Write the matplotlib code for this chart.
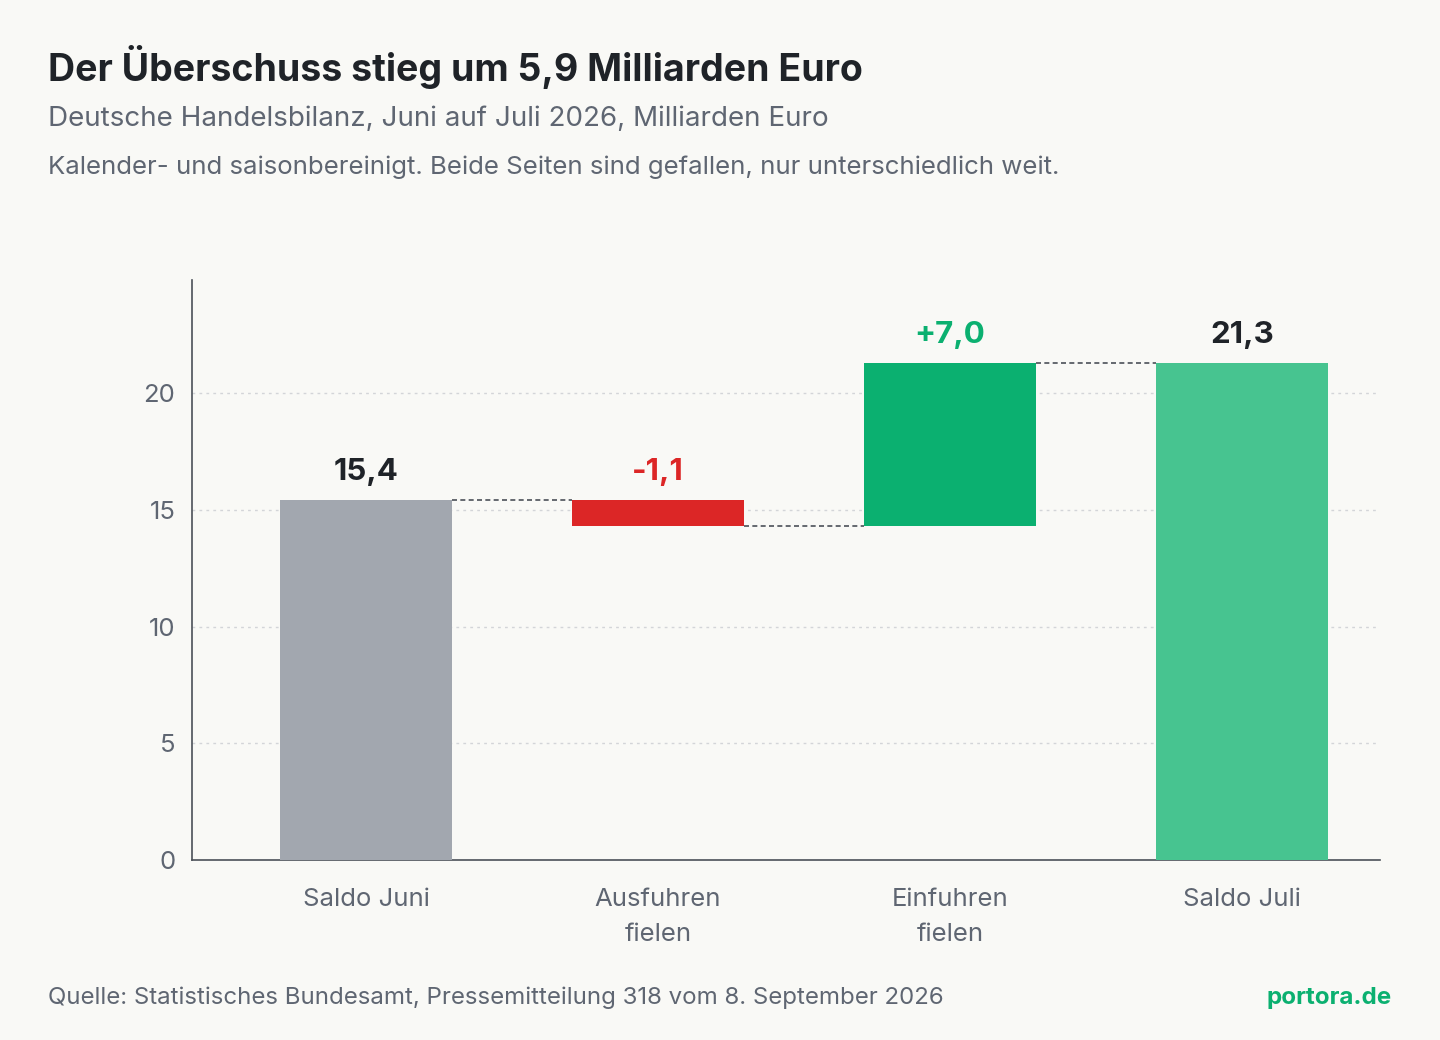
import matplotlib.pyplot as plt
import numpy as np

plt.rcParams['font.family'] = ['Inter', 'DejaVu Sans']

categories = ['Saldo Juni', 'Ausfuhren\nfielen', 'Einfuhren\nfielen', 'Saldo Juli']
changes = [15.4, -1.1, 7.0, 21.3]
labels = ['15,4', '-1,1', '+7,0', '21,3']
kinds = ['total', 'delta', 'delta', 'total']

colors = ['#a2a7af', '#dc2626', '#0bb070', '#47c490']
label_colors = ['#1f2328', '#dc2626', '#0bb070', '#1f2328']

bg = '#f9f9f6'
fig = plt.figure(figsize=(14.4, 10.4), dpi=100, facecolor=bg)
ax = fig.add_axes([192 / 1440, 1 - 860 / 1040, 1188 / 1440, 580 / 1040], facecolor=bg)

x = np.arange(len(categories))
width = 0.589
bottoms, tops = [], []
level = 0
for k, v in zip(kinds, changes):
    if k == 'total':
        b, t = 0, v
        level = v
    else:
        b, t = (level, level + v) if v > 0 else (level + v, level)
        level += v
    bottoms.append(b)
    tops.append(t)

ax.bar(x, np.array(tops) - np.array(bottoms), bottom=bottoms, width=width,
       color=colors, zorder=3)

# connectors
ends = np.cumsum(changes[:3])
for i in range(len(categories) - 1):
    lv = ends[i]
    ax.plot([x[i] + width / 2, x[i + 1] - width / 2], [lv, lv],
            color='#4b5058', lw=1.2, ls=(0, (3, 2)), zorder=4)

for i in range(len(categories)):
    ax.text(x[i], max(tops[i], bottoms[i]) + 0.6, labels[i], ha='center', va='bottom',
            fontsize=22.5, fontweight='bold', color=label_colors[i])

ax.set_xlim(-0.596, 3.473)
ax.set_ylim(0, 24.84)
ax.set_yticks([0, 5, 10, 15, 20])
ax.set_xticks(x)
ax.set_xticklabels(categories, linespacing=1.7)
ax.tick_params(axis='both', length=0, labelsize=18.5, colors='#5f6672')
ax.tick_params(axis='y', pad=12)
ax.tick_params(axis='x', pad=20)
for yv in [5, 10, 15, 20]:
    ax.axhline(yv, color='#d3d5d8', lw=1, ls=(0, (2, 3)), zorder=1)
for s in ['top', 'right']:
    ax.spines[s].set_visible(False)
for s in ['left', 'bottom']:
    ax.spines[s].set_color('#4b5058')
    ax.spines[s].set_linewidth(1.2)

fig.text(48 / 1440, 1 - 67 / 1040, 'Der Überschuss stieg um 5,9 Milliarden Euro',
         fontsize=27, fontweight='bold', color='#1f2328', va='center')
fig.text(48 / 1440, 1 - 119 / 1040, 'Deutsche Handelsbilanz, Juni auf Juli 2026, Milliarden Euro',
         fontsize=20, color='#5f6672', va='center')
fig.text(48 / 1440, 1 - 167 / 1040,
         'Kalender- und saisonbereinigt. Beide Seiten sind gefallen, nur unterschiedlich weit.',
         fontsize=18.6, color='#5f6672', va='center')
fig.text(48 / 1440, 1 - 998 / 1040,
         'Quelle: Statistisches Bundesamt, Pressemitteilung 318 vom 8. September 2026',
         fontsize=17.3, color='#5f6672', va='center')
fig.text(1392 / 1440, 1 - 998 / 1040, 'portora.de', fontsize=17.4, fontweight='bold',
         color='#0bb070', va='center', ha='right')

fig.savefig('out.png', dpi=100, facecolor=bg)
